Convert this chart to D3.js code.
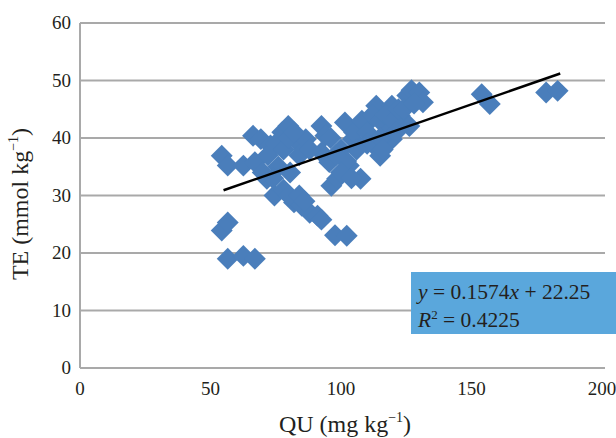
<!DOCTYPE html>
<html>
<head>
<meta charset="utf-8">
<script src="https://cdn.jsdelivr.net/npm/d3@7"></script>
<style>
  body { margin: 0; background: #fff; }
  text { font-family: "Liberation Serif", "DejaVu Serif", serif; fill: #231f20; }
</style>
</head>
<body>
<script>
// data
var quValues = [54.3, 56.6, 54.3, 56.6, 56.6, 62.6, 67, 62.6, 67, 66.3, 69.3, 71.6, 73, 74.5,
  77.5, 79.8, 80.5, 83.5, 86.5, 82, 85, 88, 91, 92.5, 92.5, 94, 92.5, 95.5, 96.3, 98.5,
  97.7, 102.2, 101.5, 104.5, 103, 107.5, 109, 113.5, 112.7, 115, 119.5, 119.5, 122.5,
  125.4, 126.2, 127, 130, 131.4, 153.9, 157, 178.6, 183,
  105, 108, 110, 112, 115, 117, 118, 120, 122, 124, 128, 110, 106, 100, 102, 98, 100,
  104, 115, 116, 121, 72, 75, 78, 80, 82, 84, 76, 74, 78, 80, 84, 86, 70, 88, 96];
var teValues = [36.9, 35.2, 23.9, 25.3, 19, 19.5, 19, 35.2, 35.8, 40.4, 39.8, 32.9, 38.7, 30,
  41, 42.1, 34, 39.2, 39.8, 28.8, 28.2, 27, 26.5, 25.8, 42.1, 40.4, 37.5, 35.8, 31.7, 32.9,
  23.1, 23, 42.7, 39.8, 35.2, 32.9, 42.1, 45.6, 38.7, 36.9, 45.6, 39.8, 43.9,
  47.4, 42.1, 48.3, 47.9, 46.2, 47.6, 45.9, 47.9, 48.2,
  41, 43, 41, 44, 43, 44, 41, 43, 45, 45, 46, 39, 38, 38, 36, 37, 34,
  33, 40, 38, 41, 37, 39, 38, 40, 41, 37, 35, 33, 31, 30, 30, 29, 34, 38, 40];
var xTicks = [0, 50, 100, 150, 200];
var yTicks = [0, 10, 20, 30, 40, 50, 60];
var slope = 0.1574, intercept = 22.25, r2 = 0.4225;
var fitRange = [55, 184];

var W = 616, H = 438;
var svg = d3.select("body").append("svg").attr("width", W).attr("height", H);

var x = d3.scaleLinear().domain([0, 200]).range([80, 602]);
var y = d3.scaleLinear().domain([0, 60]).range([368, 23]);

// horizontal gridlines
svg.append("g").selectAll("line").data(yTicks).enter().append("line")
  .attr("x1", x(0)).attr("x2", 605)
  .attr("y1", function (d) { return y(d); }).attr("y2", function (d) { return y(d); })
  .attr("stroke", "#a9a9a9").attr("stroke-width", 2);

// y axis line
svg.append("line").attr("x1", x(0)).attr("x2", x(0)).attr("y1", y(60)).attr("y2", y(0))
  .attr("stroke", "#a9a9a9").attr("stroke-width", 2);

// tick labels
svg.append("g").selectAll("text").data(yTicks).enter().append("text")
  .attr("x", 71).attr("y", function (d) { return y(d) + 6; })
  .attr("text-anchor", "end").style("font-size", "19px")
  .text(function (d) { return d; });
svg.append("g").selectAll("text").data(xTicks).enter().append("text")
  .attr("x", function (d) { return x(d); }).attr("y", 395)
  .attr("text-anchor", "middle").style("font-size", "19px")
  .text(function (d) { return d; });

// points
var pts = quValues.map(function (d, i) { return { qu: d, te: teValues[i] }; });
var sym = d3.symbol().type(d3.symbolSquare).size(240);
svg.append("g").selectAll("path").data(pts).enter().append("path")
  .attr("d", sym)
  .attr("transform", function (d) { return "translate(" + x(d.qu) + "," + y(d.te) + ") rotate(45)"; })
  .attr("fill", "#4a7ebb");

// trend line
svg.append("line")
  .attr("x1", x(fitRange[0])).attr("y1", y(slope * fitRange[0] + intercept))
  .attr("x2", x(fitRange[1])).attr("y2", y(slope * fitRange[1] + intercept))
  .attr("stroke", "#000").attr("stroke-width", 2.5);

// equation box
svg.append("rect").attr("x", 411).attr("y", 272).attr("width", 205).attr("height", 62)
  .attr("fill", "#5aa7dc");
var eq = svg.append("text").attr("x", 418).attr("y", 299).style("font-size", "21.5px");
eq.append("tspan").style("font-style", "italic").text("y");
eq.append("tspan").text(" = " + slope + "");
eq.append("tspan").style("font-style", "italic").text("x");
eq.append("tspan").text(" + " + intercept);
var rt = svg.append("text").attr("x", 418).attr("y", 327).style("font-size", "21.5px");
rt.append("tspan").style("font-style", "italic").text("R");
rt.append("tspan").attr("dy", -8).style("font-size", "13px").text("2");
rt.append("tspan").attr("dy", 8).text(" = " + r2);

// axis titles
var xt = svg.append("text").attr("x", 345).attr("y", 432).attr("text-anchor", "middle")
  .style("font-size", "24px");
xt.append("tspan").text("QU (mg kg");
xt.append("tspan").attr("dy", -10).style("font-size", "14px").text("\u22121");
xt.append("tspan").attr("dy", 10).text(")");

var yt = svg.append("text").attr("transform", "translate(28,204) rotate(-90)")
  .attr("text-anchor", "middle").style("font-size", "24px");
yt.append("tspan").text("TE (mmol kg");
yt.append("tspan").attr("dy", -10).style("font-size", "14px").text("\u22121");
yt.append("tspan").attr("dy", 10).text(")");
</script>
</body>
</html>
